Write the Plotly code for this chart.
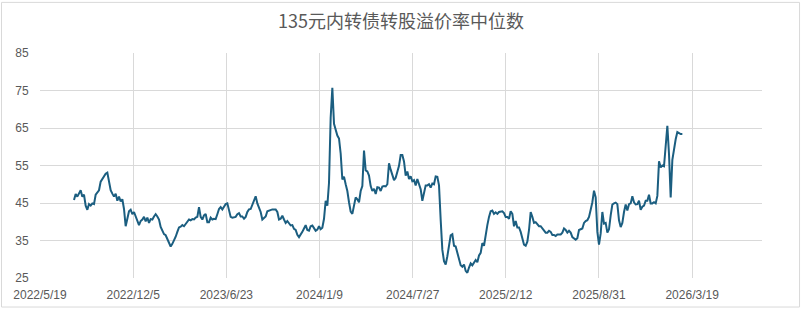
import pandas as pd
import plotly.graph_objects as go

title = "135元内转债转股溢价率中位数"
start_date = "2022-07-31"
end_date = "2026-02-26"

seg_2022 = [45.8, 47.4, 46.7, 47.5, 48.4, 46.7, 47.2, 44.3, 43.2, 44.7,
            44.3, 44.9, 44.7, 47.2, 48.0, 48.4, 50.7, 51.5, 52.1, 52.8,
            53.1, 50.7, 48.4, 47.5, 46.7, 47.5, 45.6, 46.7, 45.4, 46.0,
            43.4, 38.8, 40.8, 42.8, 43.2, 42.0, 42.6, 41.3, 40.4, 39.1,
            40.2, 40.6, 41.3, 40.1, 41.1, 39.7, 40.7, 40.6, 41.4, 42.0,
            41.4, 40.6, 38.6, 37.6, 36.7, 36.4, 35.3, 34.1, 33.4, 34.1,
            35.0, 36.0, 37.3, 38.5, 38.7, 39.1, 38.8, 39.5, 40.2, 40.6,
            40.4, 40.7, 40.6, 41.1, 41.3, 43.9]
seg_2023 = [41.3, 40.6, 41.7, 42.1, 39.9, 39.9, 41.1, 40.6, 40.8, 40.7,
            42.0, 43.4, 43.9, 43.3, 44.0, 44.7, 44.9, 43.0, 41.3, 41.1,
            41.3, 41.3, 42.0, 42.3, 41.4, 41.4, 40.8, 41.3, 42.6, 43.3,
            43.4, 44.6, 45.4, 46.8, 44.9, 43.7, 42.6, 40.6, 41.1, 41.4,
            42.8, 43.0, 43.2, 43.3, 43.3, 43.3, 42.6, 40.6, 40.8, 41.6,
            40.6, 39.7, 40.2, 39.5, 39.0, 39.1, 38.1, 37.8, 36.5, 35.9,
            36.5, 37.3, 38.2, 39.1, 37.8, 37.6, 38.8, 39.0, 38.3, 37.6,
            37.9, 38.8]
seg_2024 = [38.0, 38.4, 40.8, 45.6, 44.3, 50.4, 67.8, 75.7, 66.1, 64.3,
            63.0, 62.2, 58.2, 51.3, 52.0, 50.0, 48.2, 45.2, 42.7, 42.1,
            44.1, 46.5, 46.0, 45.2, 48.2, 49.5, 59.0, 53.7, 53.4, 52.3,
            49.5, 48.2, 48.8, 47.4, 49.2, 49.1, 48.2, 49.4, 49.5, 49.4,
            50.0, 55.6, 53.9, 52.3, 51.1, 51.7, 53.4, 54.9, 57.8, 57.8,
            56.1, 52.3, 53.4, 51.4, 52.1, 50.8, 51.1, 49.7, 51.4, 49.7,
            48.7, 45.6, 47.8, 49.7, 49.7, 50.0, 49.1, 50.2, 50.0, 52.1,
            52.0, 49.7]
seg_2025a = [40.5, 32.5, 29.5, 28.6, 30.8, 33.4, 36.4, 36.7, 33.6, 33.4,
             31.8, 29.5, 28.4, 28.0, 28.6, 26.9, 26.4, 27.8, 28.9, 28.4,
             29.1, 29.8, 29.2, 31.0, 31.7, 34.3, 33.6, 36.9, 39.1, 41.3,
             42.8, 43.0, 42.1, 42.5, 42.1, 42.6, 42.6, 42.8, 42.3, 41.3,
             41.3, 40.8, 42.8, 42.1, 38.8, 40.2, 38.5, 38.5, 37.3, 35.6,
             33.9, 33.6, 34.7, 37.8, 42.6, 41.3, 39.7, 39.9, 39.3, 38.8,
             38.8, 38.2, 37.9, 37.1, 37.1, 37.6, 37.3, 36.5, 36.5, 36.2,
             36.6, 36.6, 36.6, 37.1, 38.2]
seg_2025b = [37.8, 37.1, 37.6, 37.1, 35.9, 35.5, 35.2, 35.6, 37.8, 38.0,
             38.2, 39.7, 40.2, 40.4, 41.3, 43.2, 45.2, 48.3, 46.5, 37.3,
             33.9, 36.9, 42.6, 39.5, 39.7, 37.1, 38.0, 41.7, 44.6, 44.9,
             45.1, 44.7, 40.4, 38.6, 39.7, 42.6, 44.6, 43.0, 44.7, 44.9,
             46.8, 45.2, 44.6, 44.7, 45.6, 43.2, 44.0, 44.3, 45.6, 45.6,
             47.2, 44.9, 44.9, 45.2, 44.9, 46.9, 56.1, 54.5, 55.0, 54.8,
             60.0, 65.6, 58.0, 46.5, 56.5, 59.7, 62.0, 63.9, 63.6, 63.4,
             63.4]

values = seg_2022 + seg_2023 + seg_2024 + seg_2025a + seg_2025b
dates = pd.date_range(start_date, end_date, periods=len(values))

tick_labels = ["2022/5/19", "2022/12/5", "2023/6/23", "2024/1/9",
               "2024/7/27", "2025/2/12", "2025/8/31", "2026/3/19"]
tick_vals = pd.to_datetime(tick_labels, format="%Y/%m/%d")
x_range = ["2022-05-19", "2026-08-16"]
y_ticks = [25, 35, 45, 55, 65, 75, 85]

grid = "#d9d9d9"
text_col = "#595959"

fig = go.Figure()
fig.add_trace(go.Scatter(
    x=dates, y=values, mode="lines",
    line=dict(color="#1b5e80", width=2),
    showlegend=False,
))

fig.update_layout(
    width=802, height=314,
    margin=dict(l=40, r=40, t=53, b=32),
    paper_bgcolor="white", plot_bgcolor="white",
    title=dict(text=title, x=0.5, xanchor="center", y=0.93, yanchor="middle",
               font=dict(family="Noto Sans CJK SC", size=18, color=text_col)),
    font=dict(family="Liberation Sans", size=12, color=text_col),
    shapes=[dict(type="rect", xref="paper", yref="paper",
                 x0=-0.0533, x1=1.052, y0=-0.129, y1=1.225,
                 line=dict(color=grid, width=1), fillcolor="rgba(0,0,0,0)",
                 layer="below")],
)
fig.update_xaxes(
    type="date", range=x_range, tickvals=tick_vals, ticktext=tick_labels,
    showgrid=True, gridcolor=grid, gridwidth=1, zeroline=False,
    showline=False, ticks="outside", ticklen=6, tickcolor="rgba(0,0,0,0)",
    tickfont=dict(size=12, color=text_col),
)
fig.update_yaxes(
    range=[25, 85], tickvals=y_ticks,
    showgrid=True, gridcolor=grid, gridwidth=1, zeroline=False,
    showline=False, ticks="outside", ticklen=8, tickcolor="rgba(0,0,0,0)",
    tickfont=dict(size=12, color=text_col),
)

fig.write_html("out.html")
